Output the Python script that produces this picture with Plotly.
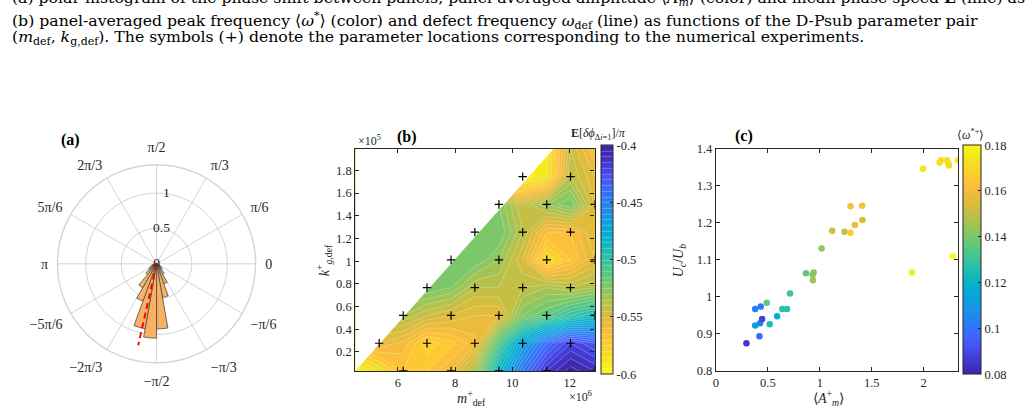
import plotly.graph_objects as go

W, H = 1027, 420
def fx(p): return p / W
def fy(p): return 1 - p / H

SERIF = "Liberation Serif"
CAPFONT = "DejaVu Serif"
INK = "#262626"
GRID = "#D4D4D4"

# ---------------- colormap (parula) ----------------
parula_table = [
    (0.2422, 0.1504, 0.6603), (0.2567, 0.2004, 0.7790), (0.2700, 0.2600, 0.8900),
    (0.2780, 0.3300, 0.9600), (0.2400, 0.4000, 0.9900), (0.1750, 0.4700, 0.9800),
    (0.1300, 0.5300, 0.9400), (0.0900, 0.5900, 0.9000), (0.0400, 0.6400, 0.8700),
    (0.0200, 0.6850, 0.8200), (0.0500, 0.7200, 0.7600), (0.1400, 0.7450, 0.6900),
    (0.2400, 0.7650, 0.6100), (0.3300, 0.7800, 0.5300), (0.4300, 0.7850, 0.4500),
    (0.5500, 0.7800, 0.3800), (0.6700, 0.7650, 0.3200), (0.7800, 0.7500, 0.2700),
    (0.8700, 0.7400, 0.2300), (0.9450, 0.7350, 0.2400), (0.9950, 0.7600, 0.2250),
    (0.9850, 0.8100, 0.1800), (0.9650, 0.8650, 0.1400), (0.9600, 0.9200, 0.1000),
    (0.9769, 0.9839, 0.0805),
]
def make_scale(tab, reverse=False):
    n = len(tab)
    out = []
    for i, (r, g, b) in enumerate(tab):
        t = i / (n - 1)
        if reverse:
            t = 1 - t
        out.append([t, f"rgb({int(r*255)},{int(g*255)},{int(b*255)})"])
    out.sort(key=lambda s: s[0])
    return out
parula = make_scale(parula_table)
parula_r = make_scale(parula_table, reverse=True)

# ---------------- (a) polar histogram data ----------------
hist_theta_deg = [-15, -25, -35, -45, -55, -65, -75, -85, -95, -105, -115, -125, -135, -145, -155, -165, -175]
hist_r = [0.03, 0.05, 0.08, 0.11, 0.17, 0.30, 0.48, 0.92, 1.05, 0.93, 0.56, 0.39, 0.20, 0.13, 0.09, 0.06, 0.03]
hist_bin_width = 10
mean_dir_deg = -102.7
mean_len = 1.18
polar_ticks_deg = [0, 30, 60, 90, 120, 150, 180, 210, 240, 270, 300, 330]
polar_ticktext = ["0", "π/6", "π/3", "π/2", "2π/3", "5π/6", "π", "−5π/6", "−2π/3", "−π/2", "−π/3", "−π/6"]
r_ticks = [0, 0.5, 1]
r_ticktext = ["0", "0.5", "1"]
r_label_angle_deg = 82

# ---------------- (b) contour data ----------------
m_grid = [4.515, 5.35, 6.19, 7.02, 7.86, 8.69, 9.53, 10.36, 11.2, 12.03, 12.87]
k_grid = [0.033, 0.277, 0.522, 0.767, 1.012, 1.256, 1.50, 1.745, 1.99]
E_dphi = [
    [-0.600, -0.585, -0.570, -0.570, -0.560, -0.535, -0.485, -0.445, -0.415, -0.402, -0.410],
    [-0.565, -0.555, -0.562, -0.578, -0.572, -0.562, -0.510, -0.470, -0.440, -0.420, -0.430],
    [-0.540, -0.535, -0.535, -0.545, -0.550, -0.555, -0.555, -0.525, -0.515, -0.500, -0.490],
    [-0.520, -0.520, -0.520, -0.520, -0.525, -0.540, -0.540, -0.540, -0.535, -0.540, -0.535],
    [-0.520, -0.520, -0.520, -0.520, -0.520, -0.520, -0.530, -0.550, -0.585, -0.570, -0.555],
    [-0.520, -0.520, -0.520, -0.520, -0.520, -0.520, -0.520, -0.540, -0.565, -0.565, -0.550],
    [-0.520, -0.520, -0.520, -0.520, -0.520, -0.520, -0.525, -0.545, -0.530, -0.520, -0.550],
    [-0.560, -0.560, -0.560, -0.560, -0.560, -0.560, -0.600, -0.600, -0.590, -0.540, -0.555],
    [-0.560, -0.560, -0.560, -0.560, -0.560, -0.580, -0.600, -0.600, -0.590, -0.545, -0.565],
]
exp_m = [5.35, 7.02, 8.69, 10.36, 12.03,
         6.19, 7.86, 9.53, 11.2, 12.87,
         7.02, 8.69, 10.36, 12.03,
         7.86, 9.53, 11.2, 12.87,
         8.69, 10.36, 12.03,
         9.53, 11.2, 12.87,
         10.36, 12.03,
         6.19, 7.86, 9.53, 11.2, 12.87]
exp_k = [0.277]*5 + [0.522]*5 + [0.767]*4 + [1.012]*4 + [1.256]*3 + [1.50]*3 + [1.745]*2 + [0.033]*5
domain_edge_m = [4.515, 11.44]
domain_edge_k = [0.033, 1.99]

# ---------------- (c) scatter data ----------------
Am = [0.294, 0.378, 0.378, 0.419, 0.426, 0.432, 0.445, 0.490, 0.518, 0.589, 0.640, 0.685, 0.714,
      0.867, 0.931, 0.941, 0.934, 1.018, 1.120, 1.238, 1.296, 1.296, 1.338, 1.408, 1.411,
      1.888, 1.994, 2.154, 2.166, 2.224, 2.237, 2.243, 2.282, 2.330]
UcUb = [0.875, 0.923, 0.967, 0.894, 0.929, 0.974, 0.940, 0.984, 0.926, 0.948, 0.967, 0.967, 1.009,
        1.064, 1.060, 1.066, 1.045, 1.131, 1.179, 1.176, 1.245, 1.173, 1.194, 1.246, 1.208,
        1.066, 1.346, 1.363, 1.369, 1.369, 1.362, 1.355, 1.110, 1.369]
omega = [0.085, 0.112, 0.103, 0.097, 0.104, 0.100, 0.088, 0.137, 0.125, 0.118, 0.127, 0.127, 0.131,
         0.136, 0.141, 0.141, 0.146, 0.143, 0.153, 0.150, 0.161, 0.166, 0.158, 0.161, 0.155,
         0.178, 0.174, 0.172, 0.172, 0.172, 0.172, 0.172, 0.179, 0.174]

fig = go.Figure()

# (a)
fig.add_trace(go.Barpolar(
    r=hist_r, theta=hist_theta_deg, width=[hist_bin_width]*len(hist_r),
    marker=dict(color="#F9B264", line=dict(color="#4a4a4a", width=0.8)),
    subplot="polar", showlegend=False))
fig.add_trace(go.Scatterpolar(
    r=[0, mean_len], theta=[mean_dir_deg, mean_dir_deg], mode="lines",
    line=dict(color="#FF0000", width=2, dash="6px,4px"),
    subplot="polar", showlegend=False))
# radial tick labels, placed on the label ray through the library's polar scale
fig.add_trace(go.Scatterpolar(
    r=r_ticks, theta=[r_label_angle_deg]*len(r_ticks), mode="text", text=r_ticktext,
    textposition="middle center", textfont=dict(family=SERIF, size=13.5, color=INK),
    subplot="polar", showlegend=False, hoverinfo="skip"))

# (b)
fig.add_trace(go.Contour(
    x=m_grid, y=k_grid, z=E_dphi, xaxis="x", yaxis="y",
    colorscale=parula_r, zmin=-0.6, zmax=-0.4,
    contours=dict(start=-0.6, end=-0.4, size=0.005, coloring="fill"),
    line=dict(color="rgba(255,255,255,0.45)", width=0.6, smoothing=0),
    colorbar=dict(x=fx(599.3), xanchor="left", y=fy(261.4), yanchor="middle",
                  len=229.3, lenmode="pixels", thickness=12.4, thicknessmode="pixels",
                  xpad=0, ypad=0, outlinecolor=INK, outlinewidth=1,
                  tickvals=[-0.6, -0.55, -0.5, -0.45, -0.4],
                  ticktext=["-0.6", "-0.55", "-0.5", "-0.45", "-0.4"],
                  ticks="inside", ticklen=3, tickcolor=INK,
                  tickfont=dict(family=SERIF, size=12.5, color=INK)),
    showlegend=False))
# mask outside the triangular parameter domain
fig.add_trace(go.Scatter(
    x=[domain_edge_m[0], domain_edge_m[1], domain_edge_m[0], domain_edge_m[0]],
    y=[domain_edge_k[0], domain_edge_k[1], domain_edge_k[1], domain_edge_k[0]],
    mode="lines", fill="toself", fillcolor="white", line=dict(width=0, color="white"),
    xaxis="x", yaxis="y", hoverinfo="skip", showlegend=False))
fig.add_trace(go.Scatter(
    x=exp_m, y=exp_k, mode="markers", xaxis="x", yaxis="y",
    marker=dict(symbol="cross-thin", size=6, line=dict(color="black", width=1.2)),
    showlegend=False))

# (c)
fig.add_trace(go.Scatter(
    x=Am, y=UcUb, mode="markers", xaxis="x2", yaxis="y2",
    marker=dict(size=6.5, color=omega, colorscale=parula, cmin=0.08, cmax=0.18,
                colorbar=dict(x=fx(963.3), xanchor="left", y=fy(261.4), yanchor="middle",
                              len=229.3, lenmode="pixels", thickness=18.4, thicknessmode="pixels",
                              xpad=0, ypad=0, outlinecolor=INK, outlinewidth=1,
                              tickvals=[0.08, 0.1, 0.12, 0.14, 0.16, 0.18],
                              ticktext=["0.08", "0.1", "0.12", "0.14", "0.16", "0.18"],
                              ticks="inside", ticklen=3, tickcolor=INK,
                              tickfont=dict(family=SERIF, size=12.5, color=INK))),
    showlegend=False))

tickfont = dict(family=SERIF, size=12.5, color=INK)
axcommon = dict(showline=True, linecolor=INK, linewidth=1.2, mirror="ticks", ticks="inside",
                ticklen=4, tickcolor=INK, showgrid=False, zeroline=False, tickfont=tickfont)

fig.update_layout(
    width=W, height=H, margin=dict(l=0, r=0, t=0, b=0),
    paper_bgcolor="white", plot_bgcolor="white",
    polar=dict(
        domain=dict(x=[fx(51.5), fx(256.5)], y=[fy(368.2), fy(163.2)]),
        bgcolor="white",
        radialaxis=dict(range=[0, 1.4], tickvals=r_ticks, showticklabels=False,
                        showline=False, ticks="", gridcolor=GRID, gridwidth=1.2),
        angularaxis=dict(tickvals=polar_ticks_deg, ticktext=polar_ticktext,
                         direction="counterclockwise", rotation=0,
                         ticks="outside", ticklen=6, tickcolor="rgba(0,0,0,0)",
                         gridcolor=GRID, gridwidth=1.2, linecolor=GRID, linewidth=1.4,
                         showline=True, tickfont=dict(family=SERIF, size=14, color=INK)),
    ),
    xaxis=dict(domain=[fx(353.3), fx(593.3)], range=[4.515, 12.87], anchor="y",
               tickvals=[6, 8, 10, 12], ticktext=["6", "8", "10", "12"], **axcommon),
    yaxis=dict(domain=[fy(376.5), fy(146.7)], range=[0.033, 1.99], anchor="x",
               tickvals=[0.2, 0.4, 0.6, 0.8, 1.0, 1.2, 1.4, 1.6, 1.8],
               ticktext=["0.2", "0.4", "0.6", "0.8", "1", "1.2", "1.4", "1.6", "1.8"], **axcommon),
    xaxis2=dict(domain=[fx(715), fx(957.7)], range=[0, 2.33], anchor="y2",
                tickvals=[0, 0.5, 1, 1.5, 2], ticktext=["0", "0.5", "1", "1.5", "2"], **axcommon),
    yaxis2=dict(domain=[fy(376.5), fy(146.7)], range=[0.8, 1.4], anchor="x2",
                tickvals=[0.8, 0.9, 1.0, 1.1, 1.2, 1.3, 1.4],
                ticktext=["0.8", "0.9", "1", "1.1", "1.2", "1.3", "1.4"], **axcommon),
)

def ann(text, x, y, size=13, xanchor="center", yanchor="middle", angle=0, bold=False, family=SERIF):
    fig.add_annotation(text=f"<b>{text}</b>" if bold else text, x=fx(x), y=fy(y),
                       xref="paper", yref="paper", showarrow=False,
                       xanchor=xanchor, yanchor=yanchor, textangle=angle,
                       font=dict(family=family, size=size, color="black" if bold else INK))

caption1 = ("(a) polar histogram of the phase shift between panels, panel-averaged amplitude "
            "⟨<i>A<sub>m</sub></i>⟩ (color) and mean phase speed <b>E</b> (line) as a")
caption2 = ("(b) panel-averaged peak frequency ⟨<i>ω</i><sup>*</sup>⟩ (color) and defect frequency "
            "<i>ω</i><sub>def</sub> (line) as functions of the D-Psub parameter pair")
caption3 = ("(<i>m</i><sub>def</sub>, <i>k</i><sub>g,def</sub>). The symbols (+) denote the parameter "
            "locations corresponding to the numerical experiments.")
for txt, yy in [(caption1, -8.5), (caption2, 13.5), (caption3, 31.8)]:
    fig.add_annotation(text=txt, x=fx(7), y=fy(yy), xref="paper", yref="paper", showarrow=False,
                       xanchor="left", yanchor="middle",
                       font=dict(family=CAPFONT, size=15.7, color="black"))

ann("(a)", 68, 138, size=16, bold=True)
ann("(b)", 405, 134, size=16, bold=True)
ann("(c)", 743, 133, size=16, bold=True)
ann("×10<sup>5</sup>", 354, 138, size=12, xanchor="left")
ann("×10<sup>6</sup>", 593, 403, size=12, xanchor="right")
ann("<i>m</i><sup>+</sup><sub>def</sub>", 470, 404, size=14)
ann("<i>k</i><sup>+</sup><sub><i>g</i>,def</sub>", 322, 262, size=14, angle=-90)
ann("<b>E</b>[<i>δϕ</i><sub>Δ<i>i</i>=1</sub>]/<i>π</i>", 597, 131, size=12)
ann("⟨<i>A</i><sup>+</sup><sub><i>m</i></sub>⟩", 828, 404, size=14)
ann("<i>U<sub>c</sub></i>/<i>U<sub>b</sub></i>", 678, 262, size=14, angle=-90)
ann("⟨<i>ω</i><sup>*+</sup>⟩", 970, 132, size=12)

fig.write_html("out.html")
